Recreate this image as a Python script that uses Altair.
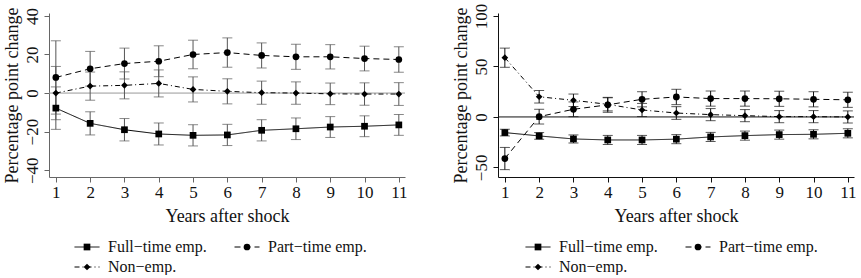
import altair as alt
import pandas as pd

years = list(range(1, 12))
series = ["Full\u2212time emp.", "Part\u2212time emp.", "Non\u2212emp."]
x_ticks = years
left_y_ticks = [-40, -20, 0, 20, 40]
right_y_ticks = [-50, 0, 50, 100]

# Left panel: estimates and half-widths of the confidence intervals
full_est_L = [-7.8, -15.7, -19.0, -21.2, -21.9, -21.7, -19.3, -18.5, -17.6, -17.2, -16.5]
full_ci_L = [11.0, 6.0, 5.8, 5.7, 5.5, 5.5, 5.5, 5.6, 5.4, 5.4, 5.4]
part_est_L = [8.1, 12.6, 15.3, 16.5, 20.0, 21.0, 19.5, 18.8, 18.8, 17.9, 17.4]
part_ci_L = [19.0, 9.0, 8.0, 8.0, 7.4, 7.6, 6.5, 6.5, 6.3, 6.4, 6.6]
non_est_L = [0.0, 3.6, 4.0, 5.0, 1.9, 0.9, 0.2, 0.0, -0.4, -0.5, -0.5]
non_ci_L = [13.8, 7.3, 7.0, 7.0, 6.5, 6.5, 6.0, 5.8, 5.6, 5.8, 5.9]

# Right panel
full_est_R = [-15.5, -18.8, -21.8, -22.8, -22.8, -22.0, -19.8, -18.5, -17.5, -17.2, -16.2]
full_ci_R = [3.3, 3.3, 4.0, 4.5, 4.5, 4.5, 4.5, 4.5, 4.5, 4.5, 4.5]
part_est_R = [-41.2, 0.3, 7.6, 12.0, 17.5, 19.8, 18.2, 18.2, 18.0, 17.5, 17.0]
part_ci_R = [11.0, 7.3, 7.3, 7.4, 7.5, 7.6, 7.5, 7.5, 7.5, 7.5, 7.5]
non_est_R = [58.7, 20.0, 16.5, 12.5, 6.9, 3.9, 2.3, 1.3, 0.3, 0.3, 0.0]
non_ci_R = [9.5, 6.2, 6.2, 6.5, 6.5, 6.3, 6.0, 6.0, 6.0, 6.0, 6.0]

FONT = "Liberation Serif"
# marker legend keys (their labels are blank): a separate legend drawn over the dash legend
marker_keys = [s + "\u200b" for s in series]


def make_df(ests, cis):
    rows = []
    for name, key, est, ci in zip(series, marker_keys, ests, cis):
        for yr, e, c in zip(years, est, ci):
            rows.append({"year": yr, "series": name, "marker": key,
                         "est": e, "lo": e - c, "hi": e + c})
    return pd.DataFrame(rows)


def panel(df, ydomain, yticks, axis_color, zero_color, bar_color, lx):
    xs = alt.Scale(domain=[0.8, 11.18], nice=False, zero=False)
    ys = alt.Scale(domain=ydomain, nice=False, zero=False)
    xax = alt.Axis(values=x_ticks, title="Years after shock", grid=False,
                   domainColor=axis_color, tickColor=axis_color, tickSize=5,
                   labelFont=FONT, labelFontSize=17, labelColor="#111",
                   labelPadding=2, labelFlush=False,
                   titleFont=FONT, titleFontSize=18, titleFontWeight="normal",
                   titleColor="#111", titlePadding=7)
    yax = alt.Axis(values=yticks, title="Percentage point change", grid=False,
                   domainColor=axis_color, tickColor=axis_color, tickSize=5,
                   labelFont=FONT, labelFontSize=17, labelColor="#111",
                   labelAngle=270, labelAlign="center", labelBaseline="alphabetic",
                   labelPadding=7,
                   titleFont=FONT, titleFontSize=18, titleFontWeight="normal",
                   titleColor="#111", titlePadding=2)
    X = alt.X("year:Q", scale=xs, axis=xax)
    Y = alt.Y("est:Q", scale=ys, axis=yax)

    base = alt.Chart(df)
    zero = alt.Chart(pd.DataFrame({"z": [0]})).mark_rule(
        color=zero_color, strokeWidth=1).encode(y=alt.Y("z:Q", scale=ys, axis=yax))

    bars = base.mark_rule(color=bar_color, strokeWidth=1).encode(
        x=X, y=alt.Y("lo:Q", scale=ys, axis=yax), y2="hi:Q")
    cap_lo = base.mark_tick(color=bar_color, orient="horizontal", size=10,
                            thickness=1).encode(x=X, y=alt.Y("lo:Q", scale=ys, axis=yax))
    cap_hi = base.mark_tick(color=bar_color, orient="horizontal", size=10,
                            thickness=1).encode(x=X, y=alt.Y("hi:Q", scale=ys, axis=yax))

    ly = 226
    common = dict(orient="none", legendY=ly, columns=2, direction="horizontal",
                  title=None, clipHeight=16, rowPadding=4,
                  labelFont=FONT, labelFontSize=16, labelColor="#111")
    lines = base.mark_line(color="black", strokeWidth=1).encode(
        x=X, y=Y,
        strokeDash=alt.StrokeDash(
            "series:N",
            scale=alt.Scale(domain=series, range=[[1, 0], [6, 4], [5, 3, 1, 3]]),
            legend=alt.Legend(legendX=lx, symbolType="stroke", symbolSize=625,
                              symbolStrokeWidth=1, symbolStrokeColor="black",
                              labelOffset=8, columnPadding=27, **common)),
    )
    points = base.mark_point(filled=True, color="black", opacity=1).encode(
        x=X, y=Y,
        shape=alt.Shape(
            "marker:N",
            scale=alt.Scale(domain=marker_keys, range=["square", "circle", "diamond"]),
            legend=alt.Legend(legendX=lx + 5, symbolSize=45,
                              symbolFillColor="black", symbolStrokeColor="black",
                              symbolStrokeWidth=0, labelExpr="''",
                              labelOffset=0, columnPadding=144, **common)),
        size=alt.value(45),
    )
    return alt.layer(zero, bars, cap_lo, cap_hi, lines, points).properties(
        width=356, height=164)


left = panel(make_df([full_est_L, part_est_L, non_est_L], [full_ci_L, part_ci_L, non_ci_L]),
             [-43.5, 41.5], left_y_ticks, "#666", "#999", "#555", 25)
right = panel(make_df([full_est_R, part_est_R, non_est_R], [full_ci_R, part_ci_R, non_ci_R]),
              [-59.5, 103], right_y_ticks, "#111", "#111", "#111", 27)

chart = alt.hconcat(left, right, spacing=43).resolve_scale(
    x="independent", y="independent", strokeDash="independent", shape="independent"
).resolve_legend(strokeDash="independent", shape="independent").properties(
    padding={"left": 2, "top": 3, "right": 0, "bottom": 0},
    background="white",
).configure(font=FONT).configure_view(stroke=None)

chart.save("out.html", embed_options={"renderer": "svg", "actions": False})
